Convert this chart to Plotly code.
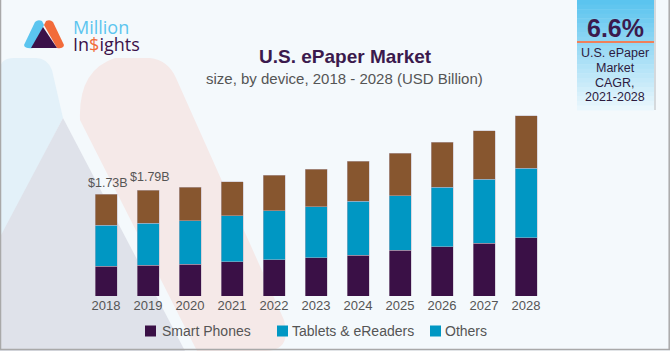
import plotly.graph_objects as go

# ---------------- data ----------------
years = ["2018", "2019", "2020", "2021", "2022", "2023", "2024", "2025", "2026", "2027", "2028"]
smart_phones = [0.504, 0.520, 0.538, 0.577, 0.616, 0.650, 0.690, 0.775, 0.836, 0.899, 0.984]
tablets_ereaders = [0.700, 0.712, 0.739, 0.780, 0.826, 0.860, 0.921, 0.926, 1.012, 1.085, 1.187]
others = [0.526, 0.558, 0.566, 0.577, 0.605, 0.644, 0.673, 0.724, 0.758, 0.819, 0.887]
series_names = ["Smart Phones", "Tablets & eReaders", "Others"]
labelled_years = ["2018", "2019"]
cagr_value = "6.6%"
cagr_lines = ["U.S. ePaper", "Market", "CAGR,", "2021-2028"]
title_text = "U.S. ePaper Market"
subtitle_text = "size, by device, 2018 - 2028 (USD Billion)"

# ---------------- style ----------------
W, H = 670, 351
L, R, T, B = 85, 123, 100, 55
PURPLE = "#3a1046"
TEAL = "#0097c3"
BROWN = "#87562f"
DARK = "#3b1a4d"
GREY_TXT = "#555555"
BG = "#f4f9fc"
FONT = "Liberation Sans"


def px(x):
    return (x - L) / (W - L - R)


def py(y):
    return (H - B - y) / (H - T - B)


def path(points, close=True):
    s = ""
    for i, p in enumerate(points):
        if p[0] == "Q":
            s += f" Q{px(p[1])},{py(p[2])} {px(p[3])},{py(p[4])}"
        else:
            s += (" M" if i == 0 else " L") + f"{px(p[0])},{py(p[1])}"
    return s.strip() + (" Z" if close else "")


fig = go.Figure()
colors = [PURPLE, TEAL, BROWN]
for name, vals, col in zip(series_names, [smart_phones, tablets_ereaders, others], colors):
    fig.add_trace(go.Bar(
        x=years, y=vals, name=name, showlegend=False,
        marker=dict(color=col, line=dict(color="rgba(190,180,195,0.6)", width=0.8)),
        hoverinfo="x+y+name",
    ))

shapes = []
# decorative faded logo in background
shapes.append(dict(type="path", xref="paper", yref="paper", layer="below", line=dict(width=0),
                   fillcolor="#e3f1f9",
                   path=path([(0, 70), ("Q", 0, 58, 14, 58), (36, 58), ("Q", 47, 58, 52, 70),
                              (63, 118), (0, 240)])))
shapes.append(dict(type="path", xref="paper", yref="paper", layer="below", line=dict(width=0),
                   fillcolor="#dfe2ea",
                   path=path([(63, 118), (185, 351), (0, 351), (0, 237)])))
shapes.append(dict(type="path", xref="paper", yref="paper", layer="below", line=dict(width=0),
                   fillcolor="#f5e9e8",
                   path=path([(80, 120), ("Q", 78, 70, 115, 58), (150, 58), ("Q", 168, 60, 176, 78),
                              (284, 320), ("Q", 292, 351, 265, 351), (197, 351)])))

# CAGR box with vertical gradient
x0b, x1b, y0b, y1b = 577, 654, 0, 110
c_top = (91, 196, 239)
c_bot = (234, 247, 253)
n = 24
for i in range(n):
    t = i / (n - 1)
    c = tuple(int(c_top[k] + (c_bot[k] - c_top[k]) * t) for k in range(3))
    ya = y0b + (y1b - y0b) * i / n
    yb = y0b + (y1b - y0b) * (i + 1) / n + 0.5
    shapes.append(dict(type="rect", xref="paper", yref="paper", layer="below", line=dict(width=0),
                       fillcolor=f"rgb{c}", x0=px(x0b), x1=px(x1b), y0=py(ya), y1=py(yb)))
shapes.append(dict(type="line", xref="paper", yref="paper", line=dict(color="#f0805a", width=2),
                   x0=px(x0b), x1=px(x1b), y0=py(42), y1=py(42)))
shapes.append(dict(type="line", xref="paper", yref="paper", line=dict(color="#b5b9bd", width=1),
                   x0=px(655), x1=px(655), y0=py(0), y1=py(110)))

# logo icon
shapes.append(dict(type="path", xref="paper", yref="paper", line=dict(width=0), fillcolor="#5bc5ef",
                   path=path([(24, 45), (35, 22), ("Q", 38, 19, 42, 21), (44, 25), (33, 48), ("Q", 25, 49, 24, 45)])))
shapes.append(dict(type="path", xref="paper", yref="paper", line=dict(width=0), fillcolor="#f26b3a",
                   path=path([(44, 25), (46, 21), ("Q", 50, 19, 53, 22), (64, 45), ("Q", 63, 49, 57, 48)])))
shapes.append(dict(type="path", xref="paper", yref="paper", line=dict(width=0), fillcolor="#3b1149",
                   path=path([(43, 27), (31, 48), (57, 48)])))

# border
shapes.append(dict(type="line", xref="paper", yref="paper", line=dict(color="#a9a9a9", width=1.5),
                   x0=px(0.5), x1=px(0.5), y0=py(0), y1=py(350)))
shapes.append(dict(type="line", xref="paper", yref="paper", line=dict(color="#a9a9a9", width=1.5),
                   x0=px(669.2), x1=px(669.2), y0=py(0), y1=py(350)))
shapes.append(dict(type="line", xref="paper", yref="paper", line=dict(color="#a9a9a9", width=1.5),
                   x0=px(0), x1=px(670), y0=py(349.5), y1=py(349.5)))

# custom legend (marker colours as in the original graphic)
legend_colors = [PURPLE, TEAL, TEAL]
legend_sq_x = [145, 277, 430]
legend_txt_x = [160, 290, 443]
for sx, col in zip(legend_sq_x, legend_colors):
    shapes.append(dict(type="rect", xref="paper", yref="paper", line=dict(width=0), fillcolor=col,
                       x0=px(sx), x1=px(sx + 11), y0=py(325.5), y1=py(336.5)))

ann = []
ann.append(dict(text=f"<b>{title_text}</b>", x=px(345), y=py(56.5), xref="paper", yref="paper",
                showarrow=False, xanchor="center", yanchor="middle",
                font=dict(family=FONT, size=19, color=DARK)))
ann.append(dict(text=subtitle_text, x=px(344), y=py(78), xref="paper", yref="paper",
                showarrow=False, xanchor="center", yanchor="middle",
                font=dict(family=FONT, size=15, color=GREY_TXT)))
# logo text
ann.append(dict(text="Million", x=px(71), y=py(27.5), xref="paper", yref="paper", showarrow=False,
                xanchor="left", yanchor="middle", font=dict(family="Open Sans", size=18, color="#5bc5ef")))
ann.append(dict(text="In<span style='color:#f26b3a'>$</span>ights", x=px(71), y=py(44), xref="paper",
                yref="paper", showarrow=False, xanchor="left", yanchor="middle",
                font=dict(family="Open Sans", size=18, color="#3b1149")))
# CAGR box text
ann.append(dict(text=f"<b>{cagr_value}</b>", x=px(615), y=py(28), xref="paper", yref="paper",
                showarrow=False, xanchor="center", yanchor="middle",
                font=dict(family=FONT, size=25, color=DARK)))
for line, yy in zip(cagr_lines, [53, 68, 82.5, 97]):
    ann.append(dict(text=line, x=px(615), y=py(yy), xref="paper", yref="paper", showarrow=False,
                    xanchor="center", yanchor="middle", font=dict(family=FONT, size=12.5, color="#2d1b3f")))
# legend text
for name, tx in zip(series_names, legend_txt_x):
    ann.append(dict(text=name, x=px(tx), y=py(331), xref="paper", yref="paper", showarrow=False,
                    xanchor="left", yanchor="middle", font=dict(family=FONT, size=14, color=GREY_TXT)))
# value labels
totals = [a + b + c for a, b, c in zip(smart_phones, tablets_ereaders, others)]
label_shift = {"2018": (2, 11), "2019": (2, 13)}
for yr in labelled_years:
    i = years.index(yr)
    xs, ys = label_shift[yr]
    ann.append(dict(text=f"${totals[i]:.2f}B", x=i, y=totals[i], xref="x", yref="y", showarrow=False,
                    xanchor="center", yanchor="middle", xshift=xs, yshift=ys,
                    font=dict(family=FONT, size=12.5, color=GREY_TXT)))

y_top = (H - T - B) * 1.73 / 102.0

fig.update_layout(
    width=W, height=H, barmode="stack", bargap=0.476,
    margin=dict(l=L, r=R, t=T, b=B, pad=0, autoexpand=False),
    paper_bgcolor=BG, plot_bgcolor="rgba(0,0,0,0)",
    shapes=shapes, annotations=ann, showlegend=False,
    xaxis=dict(type="category", range=[-0.5, len(years) - 0.5], showgrid=False, zeroline=False,
               showline=False, ticks="", tickfont=dict(family=FONT, size=13, color=GREY_TXT),
               automargin=False, fixedrange=True),
    yaxis=dict(visible=False, range=[0, y_top], showgrid=False, zeroline=False, fixedrange=True),
    font=dict(family=FONT),
)

fig.write_html("out.html", config={"displayModeBar": False})
